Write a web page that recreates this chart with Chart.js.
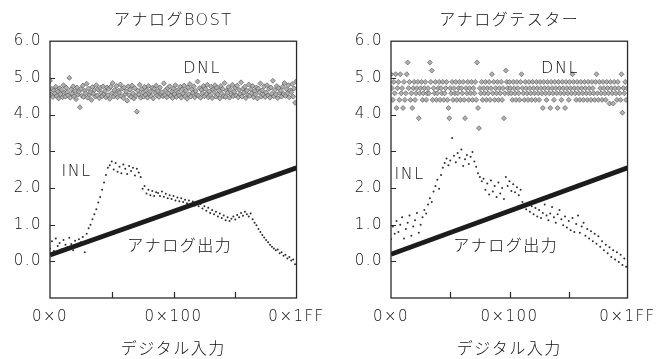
<!DOCTYPE html>
<html>
<head>
<meta charset="utf-8">
<script src="https://cdn.jsdelivr.net/npm/chart.js@4/dist/chart.umd.min.js"></script>
<style>
  html, body { margin: 0; padding: 0; background: #fff; }
  #wrap { position: relative; width: 662px; height: 359px; overflow: hidden; }
  .panel { position: absolute; top: 0; width: 331px; height: 359px; }
</style>
</head>
<body>
<div id="wrap">
  <div class="panel" style="left:0"><canvas id="bost" width="331" height="359"></canvas></div>
  <div class="panel" style="left:331px"><canvas id="tester" width="331" height="359"></canvas></div>
</div>
<script>
// ---- Data: 9-bit DAC (codes 0x000 .. 0x1FF) ----
const CODE_MAX = 511;
const DNL_STEP = 2;   // DNL sampled every 2 codes
const INL_STEP = 4;   // INL sampled every 4 codes

const xTickCodes  = [0, 256, 511];
const xTickLabels = ['0×0', '0×100', '0×1FF'];
const xMinorCodes = [128, 256, 384];
const yMinorValues = [0, 1, 2, 3, 4, 5];

// Analog output ramp (endpoint values at code 0 and code 0x1FF)
const outputCodes  = [0, 511];
const outputBost   = [0.17, 2.55];
const outputTester = [0.19, 2.55];

// DNL (plotted with +4.6 offset) measured by analog BOST
const dnlBost = [
  4.92,4.55,4.70,4.48,4.66,4.58,4.76,4.50,4.63,4.44,4.72,4.56,4.68,4.47,4.80,4.60,
  4.49,4.73,4.61,4.52,5.00,4.46,4.69,4.57,4.77,4.50,4.64,4.42,4.74,4.55,4.62,4.20,
  4.70,4.51,4.79,4.48,4.65,4.58,4.84,4.46,4.71,4.54,4.61,4.40,4.75,4.57,4.67,4.49,
  4.80,4.52,4.68,4.45,4.73,4.59,4.50,4.77,4.56,4.64,4.47,4.74,4.53,4.70,4.43,4.76,
  4.58,4.86,4.49,4.67,4.55,4.78,4.47,4.65,4.60,4.82,4.50,4.71,4.45,4.74,4.56,4.63,
  4.38,4.77,4.53,4.68,4.48,4.79,4.58,4.44,4.72,4.51,4.08,4.65,4.55,4.81,4.46,4.69,
  4.60,4.49,4.75,4.54,4.66,4.46,4.78,4.57,4.63,4.50,4.73,4.44,4.70,4.59,4.79,4.52,
  4.64,4.48,4.74,4.56,4.61,4.50,4.85,4.53,4.67,4.47,4.72,4.58,4.77,4.51,4.63,4.45,
  4.71,4.56,4.80,4.48,4.66,4.60,4.52,4.76,4.46,4.69,4.57,4.79,4.50,4.65,4.43,4.74,
  4.55,4.83,4.49,4.68,4.59,4.77,4.47,4.64,4.54,4.90,4.51,4.72,4.46,4.67,4.58,4.78,
  4.50,4.70,4.56,4.81,4.47,4.63,4.53,4.76,4.45,4.68,4.61,4.80,4.49,4.73,4.55,4.66,
  4.44,4.78,4.57,4.70,4.50,4.86,4.48,4.65,4.59,4.75,4.46,4.68,4.54,4.81,4.50,4.62,
  4.73,4.52,4.79,4.47,4.67,4.56,4.88,4.49,4.70,4.60,4.76,4.45,4.65,4.53,4.82,4.51,
  4.69,4.58,4.78,4.47,4.64,4.55,4.74,4.44,4.71,4.61,4.85,4.49,4.66,4.54,4.77,4.48,
  4.60,4.80,4.52,4.70,4.46,4.74,4.57,4.92,4.50,4.67,4.55,4.78,4.45,4.72,4.59,4.65,
  4.49,4.76,4.56,4.86,4.51,4.69,4.58,4.80,4.47,4.66,4.61,4.83,4.49,4.71,4.32,4.90
];

// DNL (plotted with +4.6 offset) measured by analog tester
const dnlTester = [
  5.10,4.72,4.40,4.89,4.58,5.10,4.18,4.72,4.89,4.40,5.10,4.58,4.72,4.18,4.89,4.40,
  4.58,5.10,5.42,4.72,4.89,4.40,4.58,4.18,4.72,4.89,4.40,4.58,4.72,4.89,3.90,4.58,
  4.72,4.89,4.40,4.58,4.72,4.89,4.40,4.58,4.72,4.58,5.42,4.89,5.20,4.40,4.72,4.58,
  4.89,4.40,4.58,4.72,4.89,4.40,4.72,4.58,4.89,4.40,4.58,4.72,4.89,4.40,4.18,3.90,
  4.72,4.58,4.89,4.40,4.72,4.58,4.89,4.40,4.58,4.72,4.89,4.40,4.72,4.58,4.89,4.40,
  3.90,4.72,4.58,4.89,4.40,4.72,4.58,4.89,4.40,4.72,4.58,4.89,4.40,5.42,4.18,3.63,
  4.72,4.58,4.89,4.40,4.72,4.58,4.89,4.40,4.72,4.58,4.89,4.40,4.72,5.10,4.58,4.89,
  4.40,4.72,4.58,4.89,4.40,4.72,4.58,4.89,4.40,4.72,3.90,4.58,5.20,4.89,4.72,4.58,
  4.89,4.72,4.58,4.40,4.89,4.72,4.58,4.40,4.89,4.72,4.58,4.40,4.89,5.10,4.72,4.58,
  4.40,4.89,4.72,4.58,4.40,4.89,4.72,4.58,4.40,4.89,4.72,4.58,4.40,4.89,4.72,4.58,
  4.40,4.89,4.72,4.58,4.18,4.89,4.72,4.58,4.40,4.89,4.72,4.58,4.18,4.89,4.72,4.58,
  4.40,4.89,4.72,4.58,4.18,4.89,4.72,4.58,4.40,4.89,4.72,4.58,4.18,4.89,4.72,4.58,
  4.40,4.89,4.72,4.58,5.10,4.89,4.72,4.58,4.40,4.89,4.72,4.58,4.40,4.89,4.72,4.58,
  4.40,4.89,4.72,4.58,4.40,4.89,4.72,4.58,4.40,4.89,4.72,4.58,4.40,4.89,5.10,4.58,
  4.40,4.89,4.72,4.58,4.40,4.89,4.72,4.58,4.40,4.89,4.72,4.58,4.30,4.89,4.72,4.58,
  4.30,4.89,4.72,4.58,4.40,4.89,4.72,4.58,4.40,5.10,4.05,4.72,4.58,4.89,4.40,4.72
];

// INL measured by analog BOST
const inlBost = [
  0.35,0.55,0.28,0.62,0.42,0.50,0.33,0.58,0.45,0.38,0.64,0.47,0.30,0.56,0.41,0.60,
  0.52,0.66,0.25,0.75,0.90,1.00,1.15,1.28,1.42,1.60,1.75,1.95,2.15,2.35,2.55,2.62,
  2.72,2.50,2.68,2.44,2.58,2.40,2.64,2.52,2.38,2.60,2.46,2.55,2.34,2.52,2.42,2.30,
  1.98,2.05,1.85,1.95,1.80,1.92,1.78,1.88,1.86,1.78,1.90,1.76,1.84,1.72,1.80,1.70,
  1.78,1.66,1.74,1.64,1.72,1.62,1.68,1.58,1.66,1.55,1.63,1.52,1.60,1.50,1.56,1.44,
  1.50,1.38,1.46,1.32,1.40,1.28,1.35,1.22,1.30,1.18,1.25,1.12,1.20,1.10,1.16,1.22,
  1.14,1.26,1.20,1.32,1.24,1.35,1.28,1.22,1.30,1.15,1.05,0.98,0.88,0.80,0.72,0.65,
  0.58,0.52,0.45,0.40,0.35,0.30,0.32,0.22,0.25,0.15,0.18,0.08,0.12,0.02,0.05,-0.08
];

// INL measured by analog tester
const inlTester = [
  0.60,0.95,0.75,1.10,0.80,1.00,1.20,0.62,0.88,1.05,1.25,0.70,0.95,1.12,1.32,0.78,
  1.00,1.20,1.40,1.30,1.55,1.72,1.62,1.90,2.05,2.22,1.98,2.35,2.55,2.68,2.80,2.62,
  2.75,3.36,2.88,2.70,2.95,2.82,3.05,2.60,2.78,2.90,2.65,2.85,2.98,2.72,2.58,2.40,
  2.30,2.18,2.25,1.95,2.12,1.82,2.20,1.90,2.05,1.75,2.15,1.85,2.00,1.70,2.30,2.05,
  2.18,1.92,2.10,1.88,2.02,1.80,1.95,1.62,1.55,1.42,1.58,1.35,1.50,1.28,1.45,1.22,
  1.40,1.18,1.32,1.55,1.25,1.12,1.30,1.48,1.20,1.05,1.28,1.40,1.15,0.98,1.22,0.92,
  1.10,0.85,1.18,0.80,1.02,1.25,0.78,0.95,1.05,0.70,0.88,0.62,0.82,0.55,0.75,0.48,
  0.68,0.40,0.55,0.30,0.45,0.22,0.38,0.12,0.30,0.05,0.25,-0.02,0.18,-0.10,0.08,-0.15
];

// ---- Rendering ----
const FONT = '"DejaVu Sans", "Noto Sans CJK JP", sans-serif';
const INK = '#101010';
Chart.defaults.font.family = FONT;
Chart.defaults.font.weight = '300';
Chart.defaults.color = INK;

const toPoints = (vals, step) => vals.map((v, i) => ({ x: i * step, y: v }));

// Plot frame, inward tick marks and in-plot labels
const framePlugin = {
  id: 'frame',
  beforeDraw(chart) { chart.ctx.letterSpacing = '1.5px'; },
  afterDatasetsDraw(chart, args, opts) {
    const { ctx, chartArea: a, scales: { x, y } } = chart;
    ctx.save();
    ctx.strokeStyle = '#2a2a2a';
    ctx.lineWidth = 1.3;
    ctx.strokeRect(a.left, a.top, a.right - a.left, a.bottom - a.top);
    ctx.lineWidth = 1.2;
    ctx.beginPath();
    for (const v of yMinorValues) {
      const py = Math.round(y.getPixelForValue(v)) + 0.5;
      ctx.moveTo(a.left, py); ctx.lineTo(a.left + 5, py);
    }
    for (const c of xMinorCodes) {
      const px = Math.round(x.getPixelForValue(c)) + 0.5;
      ctx.moveTo(px, a.bottom); ctx.lineTo(px, a.bottom - 6);
    }
    ctx.stroke();
    ctx.fillStyle = INK;
    ctx.textAlign = 'center';
    ctx.textBaseline = 'middle';
    ctx.font = '300 16px ' + FONT;
    for (const n of opts.notes) {
      ctx.fillText(n.text, x.getPixelForValue(n.code), y.getPixelForValue(n.value));
    }
    ctx.restore();
  }
};

function makeChart(id, title, output, dnl, inl, pad, notes) {
  return new Chart(document.getElementById(id), {
    type: 'scatter',
    data: {
      datasets: [
        {
          label: 'アナログ出力',
          data: outputCodes.map((c, i) => ({ x: c, y: output[i] })),
          showLine: true,
          borderColor: '#1c1c1c',
          borderWidth: 4.8,
          pointRadius: 0
        },
        {
          label: 'INL',
          data: toPoints(inl, INL_STEP),
          pointRadius: 1,
          pointBorderWidth: 0,
          backgroundColor: '#2e2e2e'
        },
        {
          label: 'DNL',
          data: toPoints(dnl, DNL_STEP),
          pointStyle: 'rectRot',
          pointRadius: 2.5,
          backgroundColor: '#b0b0b0',
          borderColor: '#4a4a4a',
          borderWidth: 0.6
        }
      ]
    },
    options: {
      responsive: false,
      animation: false,
      devicePixelRatio: 1,
      events: [],
      layout: { padding: pad },
      plugins: {
        legend: { display: false },
        tooltip: { enabled: false },
        title: {
          display: true,
          text: title,
          fullSize: false,
          color: INK,
          font: { size: 16, weight: '300' },
          padding: { top: 11, bottom: 11 }
        },
        frame: { notes }
      },
      scales: {
        x: {
          type: 'linear',
          min: 0,
          max: CODE_MAX,
          grid: { display: false, drawTicks: false },
          border: { display: false },
          afterFit(s) { s.height = 61; },
          afterBuildTicks(s) { s.ticks = xTickCodes.map(v => ({ value: v })); },
          ticks: {
            maxRotation: 0,
            autoSkip: false,
            padding: 10,
            color: INK,
            font: { size: 15 },
            callback: v => xTickLabels[xTickCodes.indexOf(v)]
          },
          title: {
            display: true,
            text: 'デジタル入力',
            color: INK,
            font: { size: 16 },
            padding: { top: 0, bottom: 0 }
          }
        },
        y: {
          min: -1,
          max: 6,
          grid: { display: false, drawTicks: false },
          border: { display: false },
          afterFit(s) { s.width = 50; },
          ticks: {
            stepSize: 1,
            padding: 8,
            color: INK,
            font: { size: 15 },
            callback: v => (v < 0 ? '' : v.toFixed(1))
          }
        }
      }
    },
    plugins: [framePlugin]
  });
}

makeChart('bost', 'アナログBOST', outputBost, dnlBost, inlBost,
  { left: 0, right: 32, top: 0, bottom: 0 },
  [
    { text: 'DNL', code: 315, value: 5.25 },
    { text: 'INL', code: 55, value: 2.45 },
    { text: 'アナログ出力', code: 269, value: 0.40 }
  ]);

makeChart('tester', 'アナログテスター', outputTester, dnlTester, inlTester,
  { left: 10, right: 21, top: 0, bottom: 0 },
  [
    { text: 'DNL', code: 365, value: 5.26 },
    { text: 'INL', code: 40, value: 2.35 },
    { text: 'アナログ出力', code: 248, value: 0.40 }
  ]);
</script>
</body>
</html>
